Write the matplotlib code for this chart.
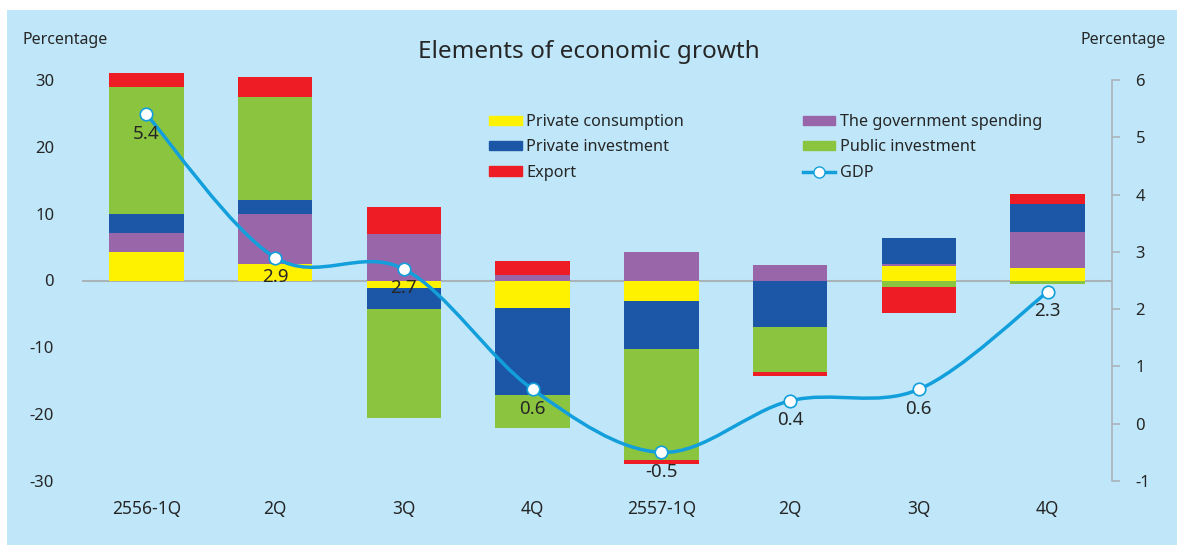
import matplotlib.pyplot as plt
import numpy as np
from matplotlib.path import Path
from matplotlib.patches import PathPatch, Rectangle
from matplotlib.lines import Line2D
from matplotlib.patches import Patch

plt.rcParams['font.family'] = ['Noto Sans', 'DejaVu Sans']
plt.rcParams['axes.unicode_minus'] = False

quarters = ['2556-1Q', '2Q', '3Q', '4Q', '2557-1Q', '2Q', '3Q', '4Q']
private_consumption = [4.3, 2.5, -1.1, -4.1, -3.0, -0.1, 2.1, 1.8]
government_spending = [2.85, 7.5, 7.0, 0.75, 4.2, 2.25, 0.3, 5.5]
private_investment = [2.85, 2.0, -3.2, -13.1, -7.3, -6.9, 4.0, 4.1]
public_investment = [18.9, 15.4, -16.2, -4.8, -16.6, -6.7, -0.9, -0.45]
export = [2.2, 3.0, 4.0, 2.1, -0.55, -0.6, -4.0, 1.6]
gdp = [5.4, 2.9, 2.7, 0.6, -0.5, 0.4, 0.6, 2.3]

series = [
    ('Private consumption', private_consumption, '#FFF200'),
    ('The government spending', government_spending, '#9966AA'),
    ('Private investment', private_investment, '#1B57A6'),
    ('Public investment', public_investment, '#8BC53F'),
    ('Export', export, '#EE1C25'),
]
bg = '#BFE7F9'
line_col = '#129FDB'
txt = '#262626'

fig = plt.figure(figsize=(11.77, 5.45), dpi=100)
fig.patch.set_facecolor('white')
fig.patches.append(Rectangle((7 / 1177, 0), 1 - 7 / 1177, 1 - 10 / 545,
                             transform=fig.transFigure, facecolor=bg,
                             edgecolor='none', zorder=-10))

ax = fig.add_axes([82 / 1177, 1 - 481 / 545, (1112 - 82) / 1177, (481 - 80) / 545])
ax.set_facecolor('none')
x = np.arange(len(quarters))
pos = np.zeros(len(quarters))
neg = np.zeros(len(quarters))
for name, vals, col in series:
    vals = np.array(vals)
    bottom = np.where(vals >= 0, pos, neg)
    ax.bar(x, vals, 0.58, bottom=bottom, color=col, clip_on=False, zorder=2)
    pos = pos + np.where(vals >= 0, vals, 0)
    neg = neg + np.where(vals < 0, vals, 0)

ax.axhline(0, color='#A9B3BA', lw=1.5, zorder=1)
ax.set_xlim(-0.5, len(quarters) - 0.5)
ax.set_ylim(-30, 30)
ax.set_yticks([30, 20, 10, 0, -10, -20, -30])
ax.set_xticks(x)
ax.set_xticklabels(quarters, fontsize=12.5, color=txt, fontweight='medium')
ax.tick_params(axis='x', length=0, pad=14)
ax.tick_params(axis='y', length=0, pad=20, labelsize=12, labelcolor=txt)
for s in ax.spines.values():
    s.set_visible(False)

ax2 = ax.twinx()
ax2.set_ylim(-1, 6)
ax2.set_yticks(range(-1, 7))
for s in ['left', 'top', 'bottom']:
    ax2.spines[s].set_visible(False)
ax2.spines['right'].set_color('#A9B3BA')
ax2.spines['right'].set_linewidth(1.2)
ax2.tick_params(axis='y', length=6, width=1.2, color='#A9B3BA', pad=11,
                labelsize=12, labelcolor=txt)

# smoothed GDP line (Catmull-Rom as bezier)
pts = np.column_stack([x, gdp]).astype(float)
verts = [pts[0]]
codes = [Path.MOVETO]
for i in range(len(pts) - 1):
    p0 = pts[max(i - 1, 0)]
    p1 = pts[i]
    p2 = pts[i + 1]
    p3 = pts[min(i + 2, len(pts) - 1)]
    verts += [p1 + (p2 - p0) / 6, p2 - (p3 - p1) / 6, p2]
    codes += [Path.CURVE4] * 3
ax2.add_patch(PathPatch(Path(verts, codes), facecolor='none', edgecolor=line_col,
                        lw=2.5, zorder=3, clip_on=False))
ax2.plot(x, gdp, linestyle='none', marker='o', ms=9, mfc='white', mec=line_col,
         mew=1.2, zorder=4, clip_on=False)
for xi, g in zip(x, gdp):
    ax2.annotate(f'{g}', (xi, g), xytext=(0, -14), textcoords='offset points',
                 ha='center', va='center', fontsize=13.5, color=txt, zorder=5)

fig.text(589 / 1177, 1 - 52 / 545, 'Elements of economic growth', ha='center',
         va='center', fontsize=17.5, color=txt)
fig.text(23 / 1177, 1 - 40 / 545, 'Percentage', ha='left', va='center',
         fontsize=11.5, color=txt)
fig.text(1166 / 1177, 1 - 40 / 545, 'Percentage', ha='right', va='center',
         fontsize=11.5, color=txt)

handles = [
    Patch(color='#FFF200', label='Private consumption'),
    Patch(color='#1B57A6', label='Private investment'),
    Patch(color='#EE1C25', label='Export'),
    Patch(color='#9966AA', label='The government spending'),
    Patch(color='#8BC53F', label='Public investment'),
    Line2D([], [], color=line_col, lw=2.5, marker='o', ms=8, mfc='white',
           mec=line_col, label='GDP'),
]
leg = fig.legend(handles=handles, ncol=2, loc='upper left',
                 bbox_to_anchor=(489 / 1177, 1 - 114 / 545), frameon=False,
                 fontsize=11.7, handlelength=2.0, handleheight=0.5,
                 handletextpad=0.3, labelspacing=0.58, columnspacing=7.3,
                 borderpad=0, borderaxespad=0)
for t in leg.get_texts():
    t.set_color(txt)

fig.savefig('out.png', dpi=100, facecolor=fig.get_facecolor())
